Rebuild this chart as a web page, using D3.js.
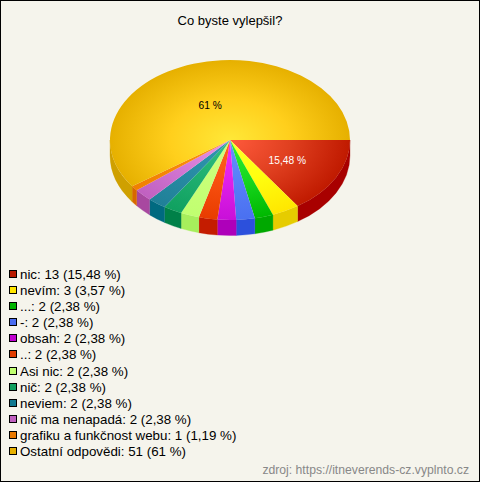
<!DOCTYPE html>
<html><head><meta charset="utf-8">
<script src="https://cdnjs.cloudflare.com/ajax/libs/d3/7.8.5/d3.min.js"></script>
<style>html,body{margin:0;padding:0;background:#f5f4ec}svg{display:block}</style>
</head><body><svg id="c" width="480" height="482"></svg>
<script>
const title = "Co byste vylepšil?";
const categories = ["nic","nevím","...","-","obsah","..","Asi nic","nič","neviem","nič ma nenapadá","grafiku a funkčnost webu","Ostatní odpovědi"];
const counts = [13,3,2,2,2,2,2,2,2,2,1,51];
const percentLabels = ["15,48 %","3,57 %","2,38 %","2,38 %","2,38 %","2,38 %","2,38 %","2,38 %","2,38 %","2,38 %","1,19 %","61 %"];
const drawnShares = [15.48,3.7,2.5,2.5,2.5,2.5,2.5,2.5,2.5,2.5,1.0,59.82];
const baseColors = ["#b81a00","#ffe600","#00b400","#4a6cf0","#c000d0","#e03c00","#c0ff70","#10a060","#107890","#c060c0","#e87800","#e6b000"];
const sideColors = ["#a80000","#e6cc00","#00a800","#2c50dc","#ae00ba","#c41c00","#a6ee5c","#008048","#006a80","#a848a0","#d86800","#cfa000"];
const innerColors = ["#ff5a3c","#ffff28","#30f030","#6690ff","#f030f8","#ff6420","#d0ff80","#30c080","#3098b0","#e898e8","#ff9810","#ffe838"];
const midColors = ["#e04020","#ffff10","#18d820","#5880f8","#e020e8","#f85010","#c8ff78","#20b070","#288ca4","#d478d4","#f88808","#ffcf1c"];
const outerColors = ["#c01a00","#ffe600","#00b800","#4a70f0","#c810d8","#e83c00","#c0ff70","#10a060","#208098","#c060c0","#f08000","#e6b000"];
const footer = "zdroj: https://itneverends-cz.vyplnto.cz";

const svg = d3.select("#c");
const W = 480, H = 482, cx = 230, cy = 140, rx = 120, ry = 80, depth = 15.5;
svg.append("rect").attr("x",.5).attr("y",.5).attr("width",W-1).attr("height",H-1).attr("fill","#f5f4ec").attr("stroke","#000");
const txt = "Arial, 'Liberation Sans', sans-serif";
svg.append("text").attr("x",cx).attr("y",25).attr("text-anchor","middle").attr("font-family",txt).attr("font-size",13).text(title);

const defs = svg.append("defs");
categories.forEach((c,i)=>{
  const g = defs.append("radialGradient").attr("id","g"+i).attr("gradientUnits","userSpaceOnUse")
    .attr("cx",0).attr("cy",0).attr("r",rx);
  g.append("stop").attr("offset","0").attr("stop-color",innerColors[i]);
  g.append("stop").attr("offset","0.5").attr("stop-color",midColors[i]);
  g.append("stop").attr("offset","1").attr("stop-color",outerColors[i]);
});
const pie = d3.pie().value(d=>d).sort(null).startAngle(Math.PI/2).endAngle(Math.PI*2.5);
const arcs = pie(drawnShares);
const arc = d3.arc().innerRadius(0).outerRadius(rx);
const yScale = ry/rx;
const px = a => rx*Math.sin(a), py = a => ry*(-Math.cos(a));

// side walls
const sideG = svg.append("g").attr("transform",`translate(${cx},${cy})`);
arcs.forEach((d,i)=>{
  const a0 = Math.max(d.startAngle, Math.PI/2), a1 = Math.min(d.endAngle, Math.PI*1.5);
  if (a1 <= a0) return;
  const pts0 = `A${rx},${ry} 0 0 1 ${px(a1)},${py(a1)}`;
  const pts1 = `A${rx},${ry} 0 0 0 ${px(a0)},${py(a0)+depth}`;
  sideG.append("path").attr("fill",sideColors[i]).attr("stroke",sideColors[i]).attr("stroke-width",.3)
    .attr("d",`M${px(a0)},${py(a0)}${pts0}L${px(a1)},${py(a1)+depth}${pts1}Z`);
});
// top surface
const topG = svg.append("g").attr("transform",`translate(${cx},${cy}) scale(1,${yScale})`);
topG.selectAll("path").data(arcs).join("path").attr("d",arc).attr("fill",(d,i)=>`url(#g${i})`);

// pie labels on the two large slices
[[0,"#fff",.54,0],[11,"#000",.46,-3]].forEach(([i,col,f,dx])=>{
  const [x,y] = d3.arc().innerRadius(rx*f).outerRadius(rx*f).centroid(arcs[i]);
  svg.append("text").attr("x",cx+x+dx).attr("y",cy+y*yScale+4).attr("text-anchor","middle")
    .attr("font-family",txt).attr("font-size",10.2).attr("fill",col).text(percentLabels[i]);
});

// legend
const ly = d3.scalePoint().domain(categories).range([274,451]);
const lg = svg.append("g").selectAll("g").data(categories).join("g").attr("transform",d=>`translate(0,${Math.round(ly(d))})`);
lg.append("rect").attr("x",9.5).attr("y",-3.5).attr("width",7).attr("height",7).attr("fill",(d,i)=>baseColors[i]).attr("stroke","#000");
lg.append("text").attr("x",20).attr("y",5).attr("font-family",txt).attr("font-size",13.33).attr("fill","#000")
  .text((d,i)=>`${d}: ${counts[i]} (${percentLabels[i]})`);
svg.append("text").attr("x",469).attr("y",474).attr("text-anchor","end").attr("font-family",txt).attr("font-size",12.2).attr("fill","#888").text(footer);
</script></body></html>
